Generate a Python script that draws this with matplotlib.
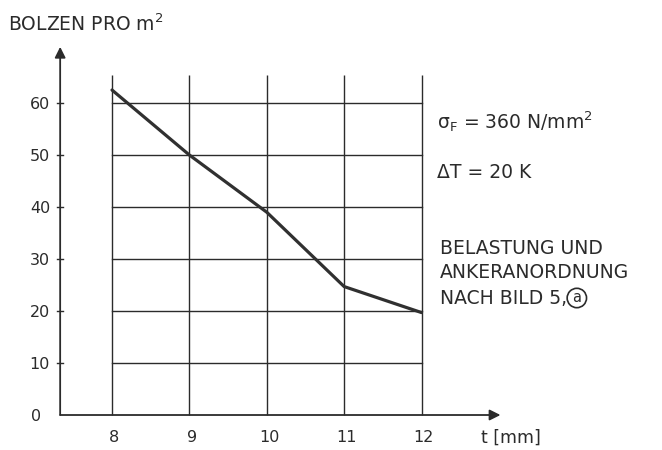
import matplotlib
matplotlib.use("Agg")
import matplotlib.pyplot as plt

# Anchor count per square metre versus plate thickness
t_mm = [8, 9, 10, 11, 12]
bolzen = [62.5, 50, 39, 24.7, 19.7]
y_ticks = [0, 10, 20, 30, 40, 50, 60]
x_tick_labels = ["8", "9", "10", "11", "12"]

ink = "#2b2b2b"
plt.rcParams["font.family"] = ["DejaVu Sans", "Noto Sans CJK SC"]
plt.rcParams["mathtext.fontset"] = "dejavusans"

fig = plt.figure(figsize=(6.62, 4.5), dpi=100)
fig.patch.set_facecolor("white")
ax = fig.add_axes([0, 0, 1, 1])
ax.set_xlim(6.5525, 15.108)
ax.set_ylim(-6.73, 79.81)
ax.axis("off")

x_axis_start = 7.33
x_axis_end = 13.02
y_axis_end = 70.8
grid_top = 65.4

# axes with arrow heads
arrow = dict(arrowstyle="-|>", mutation_scale=16, lw=1.3, color=ink,
             shrinkA=0, shrinkB=0)
ax.annotate("", xy=(x_axis_end, 0), xytext=(x_axis_start, 0), arrowprops=arrow)
ax.annotate("", xy=(x_axis_start, y_axis_end), xytext=(x_axis_start, 0),
            arrowprops=arrow)

# grid: vertical lines at each thickness, horizontal lines at each decade
for t in t_mm:
    ax.plot([t, t], [0, grid_top], color=ink, lw=1.0, solid_capstyle="butt")
for v in y_ticks[1:]:
    ax.plot([t_mm[0], t_mm[-1]], [v, v], color=ink, lw=1.0)
    ax.plot([x_axis_start - 0.04, x_axis_start + 0.04], [v, v], color=ink, lw=1.0)

# curve
ax.plot(t_mm, bolzen, color="#303030", lw=2.3, solid_joinstyle="round",
        solid_capstyle="round")

# tick labels
for v in y_ticks:
    ax.text(x_axis_start - 0.13 - (0.12 if v == 0 else 0), v - 0.3, str(v),
            ha="right", va="center", fontsize=11.5, color=ink)
for t, lab in zip(t_mm, x_tick_labels):
    ax.text(t + 0.03, -4.3, lab, ha="center", va="center", fontsize=11.5, color=ink)

ax.text(481 / 662, 1 - 438 / 450, "t [mm]", transform=ax.transAxes,
        ha="left", va="center", fontsize=12.5, color=ink)
ax.text(8 / 662, 1 - 24 / 450, r"BOLZEN PRO m$^\mathregular{2}$",
        transform=ax.transAxes, ha="left", va="center", fontsize=13.5, color=ink)

# side notes
ax.text(437 / 662, 1 - 122 / 450, r"σ$_\mathregular{F}$ = 360 N/mm$^\mathregular{2}$",
        transform=ax.transAxes, ha="left", va="center", fontsize=13.5, color=ink)
ax.text(437 / 662, 1 - 172 / 450, "ΔT = 20 K", transform=ax.transAxes,
        ha="left", va="center", fontsize=13.5, color=ink)
ax.text(440 / 662, 1 - 248 / 450, "BELASTUNG UND", transform=ax.transAxes,
        ha="left", va="center", fontsize=13.5, color=ink)
ax.text(440 / 662, 1 - 273 / 450, "ANKERANORDNUNG", transform=ax.transAxes,
        ha="left", va="center", fontsize=13.5, color=ink)
ref = ax.text(440 / 662, 1 - 298 / 450, "NACH BILD 5,", transform=ax.transAxes,
              ha="left", va="center", fontsize=13.5, color=ink)
# circled figure index placed just after the comma
ax.annotate("a", xy=(1, 0.5), xycoords=ref, xytext=(7, 0),
            textcoords="offset points", ha="center", va="center",
            fontsize=10.5, color=ink,
            bbox=dict(boxstyle="circle,pad=0.15", fc="none", ec=ink, lw=1.2))

fig.savefig("out.png", dpi=100, facecolor="white")
